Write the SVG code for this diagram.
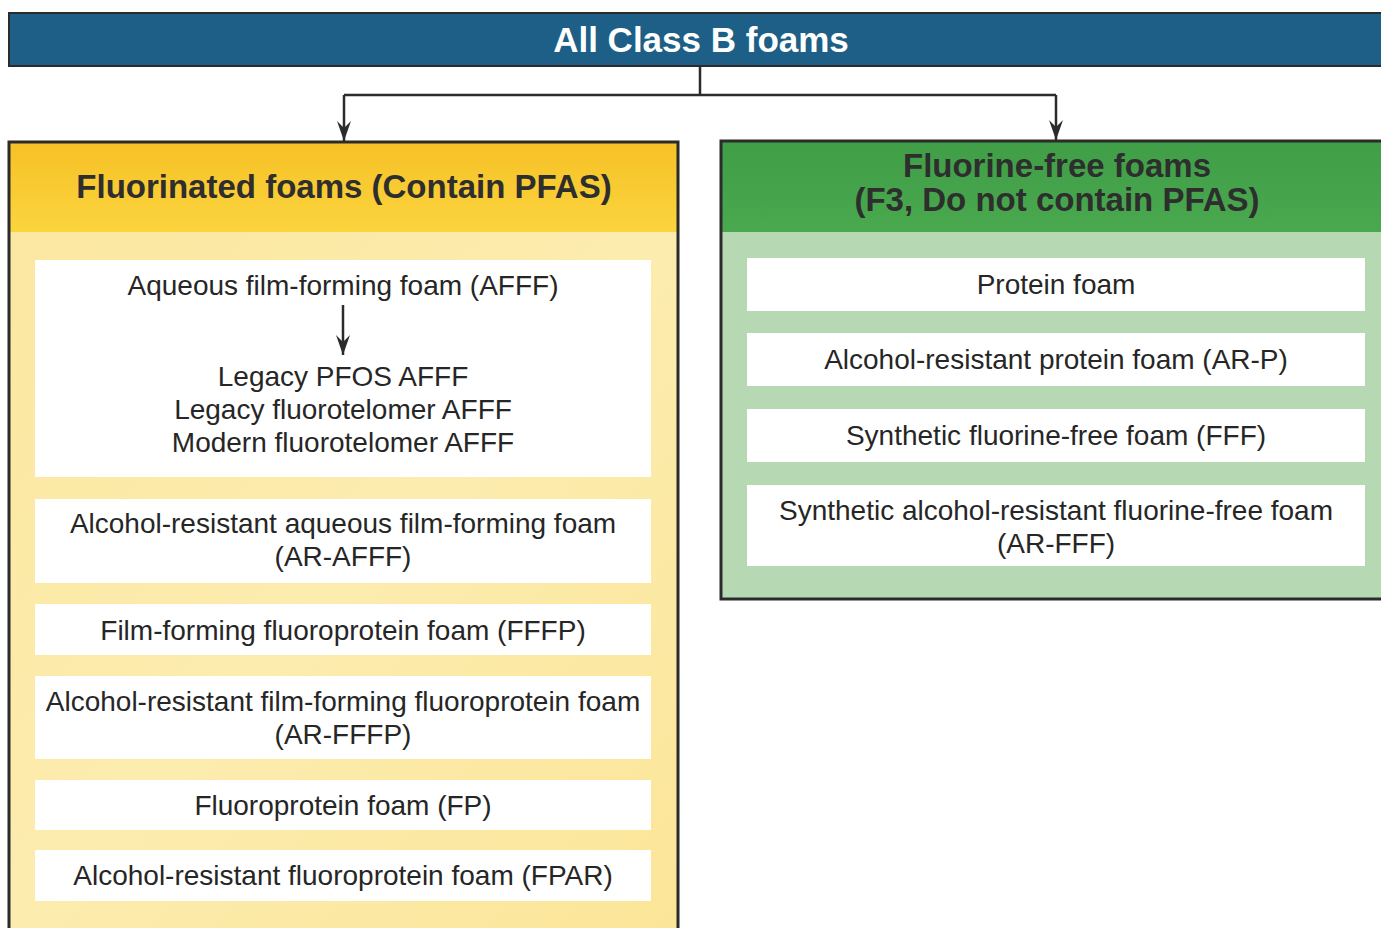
<svg xmlns="http://www.w3.org/2000/svg" width="1381" height="928" viewBox="0 0 1381 928">
<style>
.item{fill:#ffffff;}
.t{font-family:"Liberation Sans",Arial,sans-serif;font-size:28px;fill:#262626;text-anchor:middle;}
.h{font-family:"Liberation Sans",Arial,sans-serif;font-size:33px;font-weight:bold;fill:#2e2e2e;text-anchor:middle;}
.frame{fill:none;stroke:#2b2b2b;stroke-width:3;}
.conn{fill:none;stroke:#2b2b2b;stroke-width:2.5;}
</style>
<defs>
<marker id="arrd" markerWidth="14" markerHeight="20" refX="7" refY="20" markerUnits="userSpaceOnUse" viewBox="0 0 14 20">
<path d="M0,0 L7,20 L14,0 L7,7 Z" fill="#2b2b2b"/>
</marker>
<linearGradient id="yhead" x1="0" y1="0" x2="0" y2="1">
<stop offset="0" stop-color="#f6c126"/>
<stop offset="1" stop-color="#fbd43e"/>
</linearGradient>
<linearGradient id="ybody" x1="0" y1="0" x2="1" y2="1">
<stop offset="0" stop-color="#fbe7a0"/>
<stop offset="0.5" stop-color="#fcecae"/>
<stop offset="1" stop-color="#fbe598"/>
</linearGradient>
<linearGradient id="ghead" x1="0" y1="0" x2="0" y2="1">
<stop offset="0" stop-color="#3f9e46"/>
<stop offset="1" stop-color="#4aa94f"/>
</linearGradient>
</defs>

<g id="top">
<rect x="9" y="13" width="1380" height="53" fill="#1d5f86" stroke="#2b2b2b" stroke-width="2"/>
<text x="701" y="52" font-family="'Liberation Sans',Arial,sans-serif" font-size="35" font-weight="bold" fill="#ffffff" text-anchor="middle">All Class B foams</text>
</g>

<g id="fluorinated">
<rect x="9" y="142" width="669" height="90" fill="url(#yhead)"/>
<rect x="9" y="232" width="669" height="700" fill="url(#ybody)"/>
<path class="frame" d="M9,940 V142 H678 V940"/>
<text class="h" x="344" y="198">Fluorinated foams (Contain PFAS)</text>
</g>

<g id="afff">
<rect class="item" x="35" y="260" width="616" height="217"/>
<text class="t" x="343" y="295">Aqueous film-forming foam (AFFF)</text>
<text class="t" x="343" y="386">Legacy PFOS AFFF</text>
<text class="t" x="343" y="419">Legacy fluorotelomer AFFF</text>
<text class="t" x="343" y="452">Modern fluorotelomer AFFF</text>
</g>
<g id="ar-afff">
<rect class="item" x="35" y="499" width="616" height="84"/>
<text class="t" x="343" y="533">Alcohol-resistant aqueous film-forming foam</text>
<text class="t" x="343" y="566">(AR-AFFF)</text>
</g>
<g id="fffp">
<rect class="item" x="35" y="604" width="616" height="51"/>
<text class="t" x="343" y="640">Film-forming fluoroprotein foam (FFFP)</text>
</g>
<g id="ar-fffp">
<rect class="item" x="35" y="676" width="616" height="83"/>
<text class="t" x="343" y="711">Alcohol-resistant film-forming fluoroprotein foam</text>
<text class="t" x="343" y="744">(AR-FFFP)</text>
</g>
<g id="fp">
<rect class="item" x="35" y="780" width="616" height="50"/>
<text class="t" x="343" y="815">Fluoroprotein foam (FP)</text>
</g>
<g id="fpar">
<rect class="item" x="35" y="850" width="616" height="51"/>
<text class="t" x="343" y="885">Alcohol-resistant fluoroprotein foam (FPAR)</text>
</g>

<g id="fluorine-free">
<rect x="721" y="141" width="670" height="91" fill="url(#ghead)"/>
<rect x="721" y="232" width="670" height="367" fill="#b6d9b3"/>
<path class="frame" d="M1390,599 H721 V141 H1390"/>
<text class="h" x="1057" y="177">Fluorine-free foams</text>
<text class="h" x="1057" y="211">(F3, Do not contain PFAS)</text>
</g>

<g id="protein">
<rect class="item" x="747" y="258" width="618" height="53"/>
<text class="t" x="1056" y="294">Protein foam</text>
</g>
<g id="ar-p">
<rect class="item" x="747" y="333" width="618" height="53"/>
<text class="t" x="1056" y="369">Alcohol-resistant protein foam (AR-P)</text>
</g>
<g id="fff">
<rect class="item" x="747" y="409" width="618" height="53"/>
<text class="t" x="1056" y="445">Synthetic fluorine-free foam (FFF)</text>
</g>
<g id="ar-fff">
<rect class="item" x="747" y="485" width="618" height="81"/>
<text class="t" x="1056" y="520">Synthetic alcohol-resistant fluorine-free foam</text>
<text class="t" x="1056" y="553">(AR-FFF)</text>
</g>

<g id="connectors">
<path class="conn" d="M700,66 V95 M344,95 H1056"/>
<path class="conn" d="M344,95 V141" marker-end="url(#arrd)"/>
<path class="conn" d="M1056,95 V140" marker-end="url(#arrd)"/>
<path class="conn" d="M343,305 V355" stroke-width="2" marker-end="url(#arrd)"/>
</g>
</svg>
